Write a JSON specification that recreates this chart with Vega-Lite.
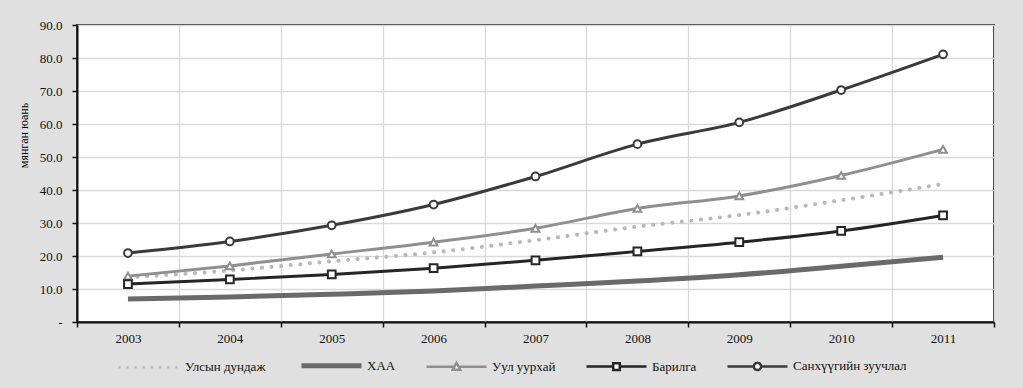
{
  "$schema": "https://vega.github.io/schema/vega-lite/v6.json",
  "width": 917,
  "height": 297,
  "autosize": {"type": "none"},
  "padding": {"left": 77, "top": 25, "right": 29, "bottom": 66},
  "background": "#e0e0e0",
  "config": {
    "font": "Times New Roman, Liberation Serif, Tinos, DejaVu Serif, serif",
    "view": {"fill": "white", "stroke": "#333333", "strokeWidth": 2},
    "axis": {"labelFont": "Times New Roman, Liberation Serif, Tinos, DejaVu Serif, serif", "labelFontSize": 13, "labelColor": "#111", "titleFont": "Times New Roman, Liberation Serif, Tinos, DejaVu Serif, serif", "titleFontWeight": "normal", "domainColor": "#111", "domainWidth": 2, "tickColor": "#111", "tickWidth": 1.5, "tickSize": 5, "gridColor": "#d9d9d9", "gridWidth": 1.3},
    "legend": {"labelFont": "Times New Roman, Liberation Serif, Tinos, DejaVu Serif, serif"}
  },
  "data": {"values": [
    {"year": "2003", "s": "Улсын дундаж", "v": 13.5},
    {"year": "2004", "s": "Улсын дундаж", "v": 15.6},
    {"year": "2005", "s": "Улсын дундаж", "v": 18.4},
    {"year": "2006", "s": "Улсын дундаж", "v": 21.1},
    {"year": "2007", "s": "Улсын дундаж", "v": 24.8},
    {"year": "2008", "s": "Улсын дундаж", "v": 28.9},
    {"year": "2009", "s": "Улсын дундаж", "v": 32.4},
    {"year": "2010", "s": "Улсын дундаж", "v": 36.9},
    {"year": "2011", "s": "Улсын дундаж", "v": 41.8},
    {"year": "2003", "s": "ХАА", "v": 7.0},
    {"year": "2004", "s": "ХАА", "v": 7.6},
    {"year": "2005", "s": "ХАА", "v": 8.4},
    {"year": "2006", "s": "ХАА", "v": 9.4},
    {"year": "2007", "s": "ХАА", "v": 10.9},
    {"year": "2008", "s": "ХАА", "v": 12.4},
    {"year": "2009", "s": "ХАА", "v": 14.3},
    {"year": "2010", "s": "ХАА", "v": 16.9},
    {"year": "2011", "s": "ХАА", "v": 19.6},
    {"year": "2003", "s": "Уул уурхай", "v": 13.9},
    {"year": "2004", "s": "Уул уурхай", "v": 17.0},
    {"year": "2005", "s": "Уул уурхай", "v": 20.6},
    {"year": "2006", "s": "Уул уурхай", "v": 24.2},
    {"year": "2007", "s": "Уул уурхай", "v": 28.4},
    {"year": "2008", "s": "Уул уурхай", "v": 34.4},
    {"year": "2009", "s": "Уул уурхай", "v": 38.2},
    {"year": "2010", "s": "Уул уурхай", "v": 44.4},
    {"year": "2011", "s": "Уул уурхай", "v": 52.3},
    {"year": "2003", "s": "Барилга", "v": 11.5},
    {"year": "2004", "s": "Барилга", "v": 12.9},
    {"year": "2005", "s": "Барилга", "v": 14.4},
    {"year": "2006", "s": "Барилга", "v": 16.3},
    {"year": "2007", "s": "Барилга", "v": 18.7},
    {"year": "2008", "s": "Барилга", "v": 21.4},
    {"year": "2009", "s": "Барилга", "v": 24.2},
    {"year": "2010", "s": "Барилга", "v": 27.6},
    {"year": "2011", "s": "Барилга", "v": 32.3},
    {"year": "2003", "s": "Санхүүгийн зуучлал", "v": 20.9},
    {"year": "2004", "s": "Санхүүгийн зуучлал", "v": 24.4},
    {"year": "2005", "s": "Санхүүгийн зуучлал", "v": 29.3},
    {"year": "2006", "s": "Санхүүгийн зуучлал", "v": 35.6},
    {"year": "2007", "s": "Санхүүгийн зуучлал", "v": 44.1},
    {"year": "2008", "s": "Санхүүгийн зуучлал", "v": 53.9},
    {"year": "2009", "s": "Санхүүгийн зуучлал", "v": 60.5},
    {"year": "2010", "s": "Санхүүгийн зуучлал", "v": 70.3},
    {"year": "2011", "s": "Санхүүгийн зуучлал", "v": 81.1}
  ]},
  "encoding": {
    "x": {"field": "year", "type": "ordinal", "scale": {"type": "band", "paddingInner": 0, "paddingOuter": 0},
      "axis": {"title": null, "labelAngle": 0, "tickBand": "extent", "grid": true, "labelPadding": 5}},
    "y": {"field": "v", "type": "quantitative", "scale": {"domain": [0, 90]},
      "axis": {"title": "мянган юань", "titleFontSize": 12, "titleX": -47, "titleY": 110, "titleAngle": -90, "values": [0, 10, 20, 30, 40, 50, 60, 70, 80, 90],
        "labelExpr": "datum.value === 0 ? '-  ' : format(datum.value, '.1f')", "labelPadding": 10, "grid": true}},
    "color": {"field": "s", "type": "nominal",
      "scale": {"domain": ["Улсын дундаж", "ХАА", "Уул уурхай", "Барилга", "Санхүүгийн зуучлал"], "range": ["#b8b8b8", "#6a6a6a", "#8f8f8f", "#252525", "#3a3a3a"]},
      "legend": {"title": null, "orient": "none", "legendX": 66, "legendY": 334, "direction": "horizontal", "columns": 5, "columnPadding": 25, "padding": 0,
        "symbolSize": 3600, "labelFontSize": 13, "labelColor": "#111", "labelOffset": 29, "labelFont": "Times New Roman, Liberation Serif, Tinos, DejaVu Serif, serif",
        "encode": {"symbols": {"update": {
          "shape": {"signal": "datum.value === 'Улсын дундаж' || datum.value === 'ХАА' ? 'M-1,0H1' : datum.value === 'Уул уурхай' ? 'M-1,0H-0.075M0.075,0H1M0,-0.13L0.125,0.1L-0.125,0.1Z' : datum.value === 'Барилга' ? 'M-1,0H-0.11M0.11,0H1M-0.11,-0.11H0.11V0.11H-0.11Z' : 'M-1,0H-0.12M0.12,0H1M-0.12,0A0.12,0.12 0 1,1 0.12,0A0.12,0.12 0 1,1 -0.12,0Z'"},
          "fill": {"value": "white"},
          "strokeWidth": {"signal": "datum.value === 'ХАА' ? 5 : 2.5"},
          "strokeDash": {"signal": "datum.value === 'Улсын дундаж' ? [0.1, 8] : [1, 0]"},
          "strokeCap": {"signal": "datum.value === 'Улсын дундаж' ? 'round' : 'butt'"}
        }}}}
    }
  },
  "layer": [
    {
      "transform": [{"filter": "datum.s === 'Улсын дундаж'"}],
      "mark": {"type": "line", "interpolate": "monotone", "strokeWidth": 4, "strokeDash": [0.1, 9.5], "strokeCap": "round"}
    },
    {
      "transform": [{"filter": "datum.s !== 'Улсын дундаж' && datum.s !== 'ХАА'"}],
      "mark": {"type": "line", "interpolate": "monotone", "strokeWidth": 3}
    },
    {
      "transform": [{"filter": "datum.s === 'ХАА'"}],
      "mark": {"type": "line", "interpolate": "monotone", "strokeWidth": 5}
    },
    {
      "transform": [{"filter": "datum.s === 'Уул уурхай' || datum.s === 'Барилга' || datum.s === 'Санхүүгийн зуучлал'"}],
      "mark": {"type": "point", "filled": false, "fill": "white", "fillOpacity": 1, "opacity": 1, "strokeWidth": 2, "size": 60},
      "encoding": {
        "shape": {"field": "s", "type": "nominal", "legend": null,
          "scale": {"domain": ["Уул уурхай", "Барилга", "Санхүүгийн зуучлал"], "range": ["triangle-up", "square", "circle"]}}
      }
    }
  ]
}
